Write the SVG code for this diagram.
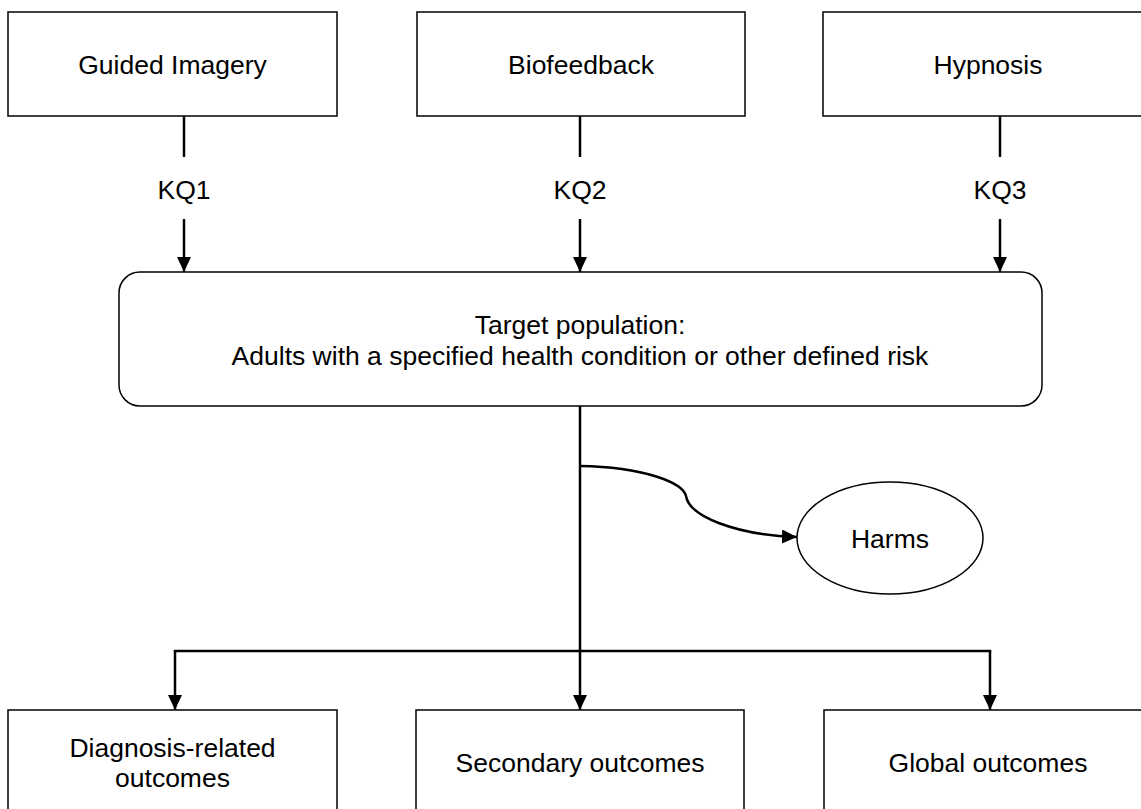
<svg xmlns="http://www.w3.org/2000/svg" width="1141" height="809" viewBox="0 0 1141 809">
<style>
.box{fill:#fff;stroke:#000;stroke-width:1.5}
.lbl{font-family:"Liberation Sans",Arial,sans-serif;font-size:26.5px;fill:#000;text-anchor:middle}
.conn{fill:none;stroke:#000;stroke-width:2.5}
</style>
<defs>
<marker id="arr" markerUnits="userSpaceOnUse" markerWidth="16" markerHeight="14" refX="15" refY="7" orient="auto">
<path d="M0,0 L15,7 L0,14 z" fill="#000"/>
</marker>
</defs>
<rect width="1141" height="809" fill="#fff"/>
<g id="connectors">
<line class="conn" x1="184" y1="116" x2="184" y2="157"/>
<line class="conn" x1="184" y1="219" x2="184" y2="272" marker-end="url(#arr)"/>
<line class="conn" x1="580" y1="116" x2="580" y2="157"/>
<line class="conn" x1="580" y1="219" x2="580" y2="272" marker-end="url(#arr)"/>
<line class="conn" x1="1000" y1="116" x2="1000" y2="157"/>
<line class="conn" x1="1000" y1="219" x2="1000" y2="272" marker-end="url(#arr)"/>
<line class="conn" x1="580" y1="406" x2="580" y2="652"/>
<line class="conn" x1="173.75" y1="651" x2="991.25" y2="651"/>
<line class="conn" x1="175" y1="651" x2="175" y2="710" marker-end="url(#arr)"/>
<line class="conn" x1="580" y1="651" x2="580" y2="710" marker-end="url(#arr)"/>
<line class="conn" x1="990" y1="651" x2="990" y2="710" marker-end="url(#arr)"/>
<path class="conn" d="M580,466 C645,467 683,483 686,496 C689,516 735,535 797,537" marker-end="url(#arr)"/>
<text class="lbl" x="184" y="199">KQ1</text>
<text class="lbl" x="580" y="199">KQ2</text>
<text class="lbl" x="1000" y="199">KQ3</text>
</g>
<g id="guided-imagery">
<rect class="box" x="8" y="12" width="329" height="104"/>
<text class="lbl" x="172.5" y="74">Guided Imagery</text>
</g>
<g id="biofeedback">
<rect class="box" x="417" y="12" width="328" height="104"/>
<text class="lbl" x="581" y="74">Biofeedback</text>
</g>
<g id="hypnosis">
<rect class="box" x="823" y="12" width="330" height="104"/>
<text class="lbl" x="988" y="74">Hypnosis</text>
</g>
<g id="target-population">
<rect class="box" x="119" y="272" width="923" height="134" rx="21" ry="21"/>
<text class="lbl" x="580" y="334">Target population:</text>
<text class="lbl" x="580" y="365">Adults with a specified health condition or other defined risk</text>
</g>
<g id="harms">
<ellipse class="box" cx="890" cy="538" rx="93" ry="56"/>
<text class="lbl" x="890" y="548">Harms</text>
</g>
<g id="diagnosis-related-outcomes">
<rect class="box" x="8" y="710" width="329" height="104"/>
<text class="lbl" x="172.5" y="757">Diagnosis-related</text>
<text class="lbl" x="172.5" y="787">outcomes</text>
</g>
<g id="secondary-outcomes">
<rect class="box" x="416" y="710" width="328" height="104"/>
<text class="lbl" x="580" y="772">Secondary outcomes</text>
</g>
<g id="global-outcomes">
<rect class="box" x="824" y="710" width="330" height="104"/>
<text class="lbl" x="988" y="772">Global outcomes</text>
</g>
</svg>
